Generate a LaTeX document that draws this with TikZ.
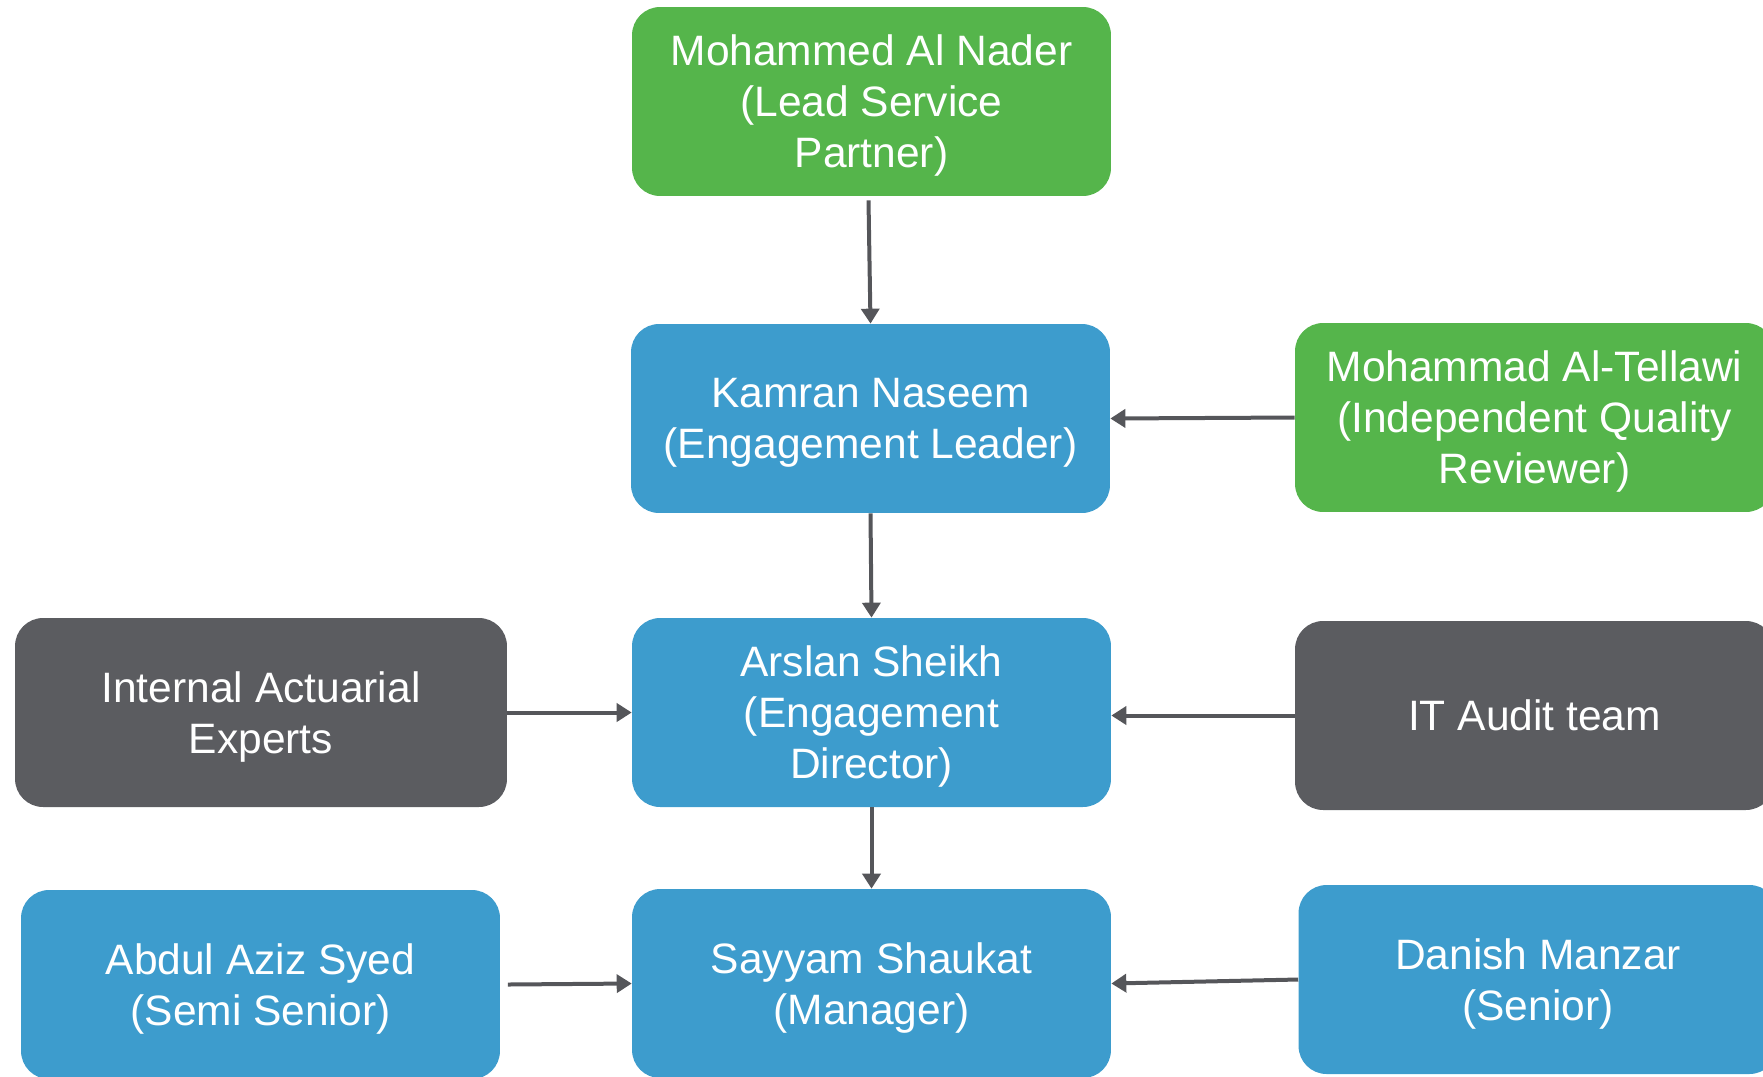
\documentclass[tikz,border=0pt]{standalone}
\usepackage{fontspec}
\setmainfont{Liberation Sans}
\usetikzlibrary{arrows.meta}
\definecolor{boxgreen}{HTML}{55B54B}
\definecolor{boxblue}{HTML}{3D9CCD}
\definecolor{boxgray}{HTML}{5B5C60}
\definecolor{linkgray}{HTML}{55565A}
\begin{document}
\begin{tikzpicture}[x=0.02cm,y=-0.02cm,
    box/.style={rounded corners=0.56cm, text=white, align=center, inner sep=0pt,
      minimum width=9.58cm, minimum height=3.78cm, font=\fontsize{24.2}{29}\selectfont},
    lines/.style={text depth=-1.7pt},
    link/.style={draw=linkgray, line width=0.08cm, -{Triangle[width=0.36cm,length=0.3cm]}}]
      \useasboundingbox (0,0) rectangle (1763,1076);
      \clip (0,0) rectangle (1763,1076);
      % boxes
      \node[box,lines,fill=boxgreen] (nader) at (871.5,101.5) {Mohammed Al Nader\\(Lead Service\\Partner)};
      \node[box,lines,fill=boxblue] (kamran) at (870.5,418.5) {Kamran Naseem\\(Engagement Leader)};
      \node[box,lines,fill=boxgreen] (tellawi) at (1534.5,417.5) {Mohammad Al-Tellawi\\(Independent Quality\\Reviewer)};
      \node[box,lines,fill=boxblue] (arslan) at (871.5,712.5) {Arslan Sheikh\\(Engagement\\Director)};
      \node[box,lines,fill=boxgray,minimum width=9.84cm] (actuarial) at (261,712.5) {Internal Actuarial\\Experts};
      \node[box,fill=boxgray] (itaudit) at (1534.5,715.5) {IT Audit team};
      \node[box,lines,fill=boxblue] (sayyam) at (871.5,983.5) {Sayyam Shaukat\\(Manager)};
      \node[box,lines,fill=boxblue] (abdul) at (260.5,984.5) {Abdul Aziz Syed\\(Semi Senior)};
      \node[box,lines,fill=boxblue] (danish) at (1538,979.5) {Danish Manzar\\(Senior)};
      % arrows
      \draw[link] ([xshift=-0.06cm,yshift=-0.08cm]nader.south) -- (kamran.north);
      \draw[link] (tellawi.west) -- (kamran.east);
      \draw[link] (kamran.south) -- (arslan.north);
      \draw[link] (actuarial.east) -- (arslan.west);
      \draw[link] (itaudit.west) -- (itaudit.west -| arslan.east);
      \draw[link] (arslan.south) -- (sayyam.north);
      \draw[link] ([xshift=0.15cm]abdul.east) -- (sayyam.west);
      \draw[link] (danish.west) -- (sayyam.east);
\end{tikzpicture}
\end{document}
